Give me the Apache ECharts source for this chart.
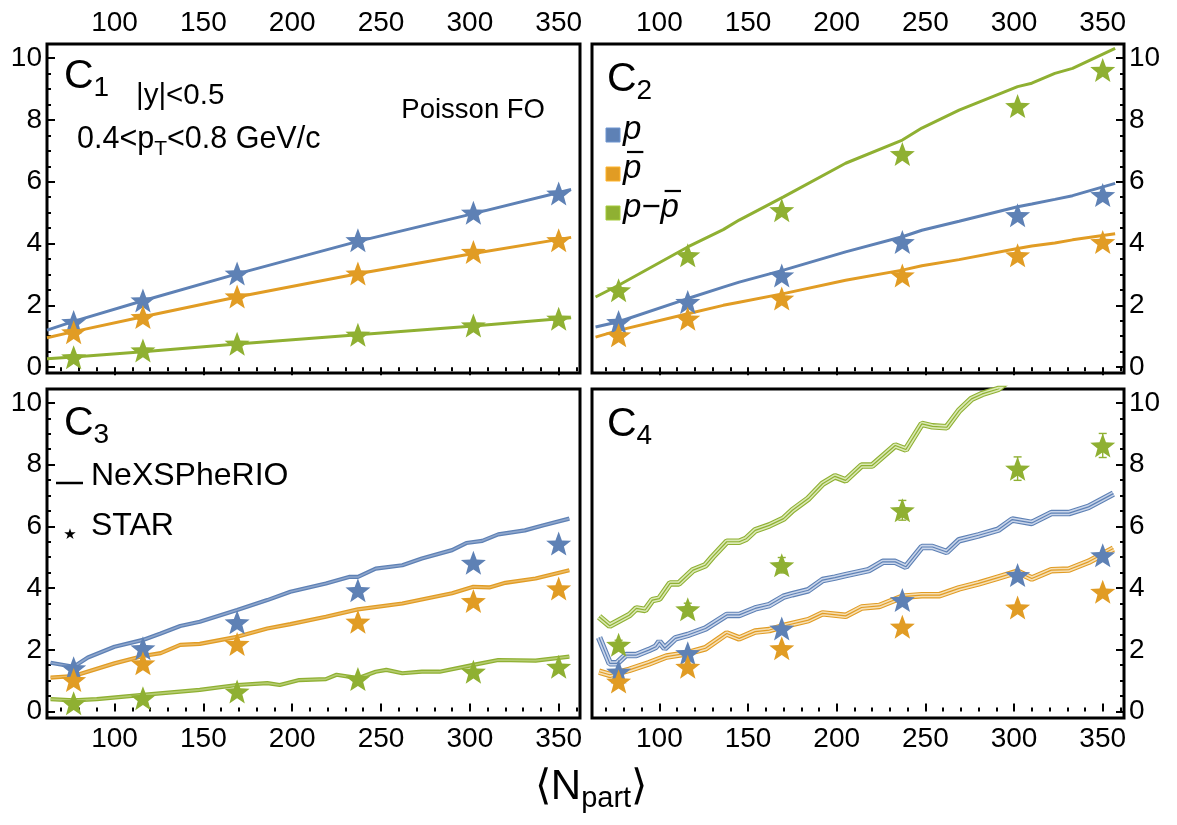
<!DOCTYPE html>
<html>
<head>
<meta charset="utf-8">
<script src="https://cdn.jsdelivr.net/npm/echarts@6/dist/echarts.min.js"></script>
<style>
  html, body { margin: 0; padding: 0; background: #fff; }
  #chart { width: 1177px; height: 825px; }
</style>
</head>
<body>
<div id="chart"></div>
<script>
'use strict';

// STAR centrality points (<Npart>)
var nPart = [77, 116, 169, 237, 302, 350];

// C1
var c1StarP    = [1.46, 2.16, 3.03, 4.11, 5.00, 5.62];
var c1StarPbar = [1.13, 1.62, 2.29, 3.03, 3.73, 4.11];
var c1StarNet  = [0.32, 0.54, 0.76, 1.05, 1.35, 1.57];
var c1ModelX    = [62, 77, 116, 169, 237, 302, 357];
var c1ModelP    = [1.20, 1.48, 2.15, 3.02, 4.07, 4.97, 5.75];
var c1ModelPbar = [0.95, 1.15, 1.63, 2.27, 3.02, 3.68, 4.20];
var c1ModelNet  = [0.27, 0.33, 0.50, 0.75, 1.05, 1.33, 1.60];

// C2
var c2StarP    = [1.46, 2.11, 2.97, 4.05, 4.92, 5.57];
var c2StarPbar = [1.03, 1.57, 2.22, 2.97, 3.62, 4.05];
var c2StarNet  = [2.49, 3.62, 5.08, 6.90, 8.45, 9.62];
var c2ModelX    = [64, 77, 116, 136, 145, 170, 205, 237, 248, 269, 302, 310, 323, 333, 357];
var c2ModelP    = [1.30, 1.47, 2.22, 2.59, 2.75, 3.14, 3.73, 4.22, 4.43, 4.72, 5.19, 5.28, 5.43, 5.55, 5.95];
var c2ModelPbar = [0.97, 1.19, 1.73, 2.00, 2.10, 2.38, 2.81, 3.14, 3.28, 3.48, 3.84, 3.92, 4.02, 4.12, 4.32];
var c2ModelNet  = [2.27, 2.65, 3.89, 4.45, 4.76, 5.51, 6.60, 7.35, 7.74, 8.32, 9.08, 9.19, 9.51, 9.67, 10.32];

// C3
var c3StarP    = [1.40, 2.05, 2.89, 3.93, 4.82, 5.44];
var c3StarPbar = [1.02, 1.56, 2.19, 2.91, 3.58, 3.99];
var c3StarNet  = [0.27, 0.43, 0.65, 1.05, 1.29, 1.45];
var c3PX    = [64, 77, 85, 100, 116, 126, 137, 148, 169, 186, 199, 219, 232, 237, 247, 262, 273, 290, 298, 307, 316, 331, 341, 356];
var c3PY    = [1.58, 1.45, 1.75, 2.10, 2.32, 2.53, 2.77, 2.91, 3.29, 3.61, 3.88, 4.15, 4.36, 4.36, 4.63, 4.74, 4.96, 5.23, 5.46, 5.53, 5.74, 5.87, 6.03, 6.25];
var c3PbarX = [64, 77, 100, 116, 126, 137, 148, 169, 186, 199, 219, 237, 262, 290, 302, 311, 320, 337, 356];
var c3PbarY = [1.10, 1.15, 1.56, 1.80, 1.89, 2.16, 2.19, 2.42, 2.69, 2.83, 3.07, 3.31, 3.50, 3.83, 4.04, 4.02, 4.17, 4.31, 4.58];
var c3NetX  = [64, 77, 90, 116, 148, 169, 186, 193, 204, 219, 225, 237, 247, 253, 262, 273, 283, 302, 316, 337, 356];
var c3NetY  = [0.40, 0.36, 0.40, 0.54, 0.70, 0.86, 0.92, 0.86, 1.02, 1.05, 1.19, 1.08, 1.29, 1.35, 1.24, 1.29, 1.29, 1.51, 1.67, 1.65, 1.78];

// C4
var c4StarP    = [1.29, 1.89, 2.69, 3.61, 4.42, 5.06];
var c4StarPbar = [0.97, 1.45, 2.05, 2.75, 3.37, 3.88];
var c4StarNet  = [2.16, 3.31, 4.74, 6.52, 7.87, 8.62];
var c4StarNetErr = [0.15, 0.20, 0.25, 0.32, 0.38, 0.39];
var c4PX    = [66, 72, 76, 81, 87, 94, 98, 100, 103, 109, 116, 126, 138, 145, 154, 162, 170, 175, 184, 192, 199, 205, 218, 226, 233, 239, 248, 254, 262, 269, 280, 291, 299, 310, 321, 331, 342, 356];
var c4PY    = [2.40, 1.56, 1.56, 1.83, 1.83, 1.99, 2.10, 2.26, 2.05, 2.37, 2.48, 2.69, 3.13, 3.13, 3.34, 3.45, 3.72, 3.80, 3.93, 4.26, 4.34, 4.42, 4.58, 4.85, 4.85, 4.69, 5.33, 5.33, 5.17, 5.55, 5.71, 5.89, 6.22, 6.11, 6.43, 6.43, 6.63, 7.06];
var c4PbarX = [66, 72, 83, 94, 104, 116, 126, 138, 145, 154, 162, 170, 184, 192, 205, 214, 224, 237, 248, 258, 269, 280, 291, 302, 310, 321, 331, 342, 356];
var c4PbarY = [1.29, 1.19, 1.35, 1.56, 1.78, 1.89, 2.05, 2.53, 2.37, 2.59, 2.64, 2.77, 2.96, 3.18, 3.10, 3.37, 3.42, 3.72, 3.77, 3.77, 3.99, 4.15, 4.34, 4.53, 4.31, 4.58, 4.60, 4.85, 5.28];
var c4NetX  = [66, 72, 83, 87, 92, 96, 100, 106, 111, 119, 126, 130, 138, 145, 149, 154, 162, 170, 175, 184, 192, 199, 205, 214, 220, 233, 239, 248, 254, 262, 269, 276, 282, 291, 297];
var c4NetY  = [3.07, 2.78, 3.12, 3.34, 3.29, 3.61, 3.66, 4.15, 4.15, 4.58, 4.74, 5.01, 5.50, 5.50, 5.60, 5.87, 6.03, 6.25, 6.52, 6.90, 7.38, 7.62, 7.49, 7.97, 7.97, 8.62, 8.49, 9.32, 9.24, 9.21, 9.75, 10.13, 10.29, 10.45, 10.72];

// axis ticks
var xTicks = [100, 150, 200, 250, 300, 350];
var xMinor = [70, 80, 90, 110, 120, 130, 140, 160, 170, 180, 190, 210, 220, 230, 240, 260, 270, 280, 290, 310, 320, 330, 340, 360];
var yTicks = [0, 2, 4, 6, 8, 10];
var yMinor = [0.5, 1, 1.5, 2.5, 3, 3.5, 4.5, 5, 5.5, 6.5, 7, 7.5, 8.5, 9, 9.5];

var BLUE = '#5e81b5', ORANGE = '#e19c24', GREEN = '#8fb032';
var BLUE_M = '#8ea6cc', ORANGE_M = '#ebbb66', GREEN_M = '#b5cc72';
var BLUE_L = '#c9d5ea', ORANGE_L = '#f6dfb4', GREEN_L = '#dae9b5';
var FONT = '"Liberation Sans", Arial, sans-serif';
var STAR = 'path://M50 0L62.34 33.01L97.55 34.55L69.97 56.49L79.39 90.45L50 71L20.61 90.45L30.03 56.49L2.45 34.55L37.66 33.01Z';

var chart = echarts.init(document.getElementById('chart'));

var mctx = document.createElement('canvas').getContext('2d');
function tw(s, size, style) {
    mctx.font = (style || 'normal') + ' ' + size + 'px ' + FONT;
    return mctx.measureText(s).width;
}

function pairs(xs, ys) {
    return xs.map(function (x, i) { return [x, ys[i]]; });
}

var grids = [
    {left: 47, top: 44, width: 533, height: 329},
    {left: 592, top: 44, width: 532, height: 329},
    {left: 47, top: 389, width: 533, height: 329},
    {left: 592, top: 389, width: 532, height: 329}
];
var xPos = ['top', 'top', 'bottom', 'bottom'];
var yPos = ['left', 'right', 'left', 'right'];
var yMin = [-0.19, -0.19, -0.21, -0.21];
var yMax = [10.46, 10.46, 10.45, 10.45];

var xAxes = [], yAxes = [];
grids.forEach(function (g, k) {
    [true, false].forEach(function (major) {
        xAxes.push({
            gridIndex: k, type: 'value', min: 62, max: 362, position: xPos[k],
            axisLine: {show: false}, splitLine: {show: false},
            axisTick: {show: true, inside: true, length: major ? 8 : 4,
                customValues: major ? xTicks : xMinor,
                lineStyle: {color: '#000', width: 2}},
            axisLabel: {show: major, customValues: xTicks, fontSize: 28, fontFamily: FONT,
                color: '#000', margin: 7}
        });
        yAxes.push({
            gridIndex: k, type: 'value', min: yMin[k], max: yMax[k], position: yPos[k],
            axisLine: {show: false}, splitLine: {show: false},
            axisTick: {show: true, inside: true, length: major ? 8 : 4,
                customValues: major ? yTicks : yMinor,
                lineStyle: {color: '#000', width: 2}},
            axisLabel: {show: major, customValues: yTicks, fontSize: 28, fontFamily: FONT,
                color: '#000', margin: 5}
        });
    });
});

var series = [];
function line(k, data, color, width) {
    series.push({
        type: 'line', xAxisIndex: 2 * k, yAxisIndex: 2 * k, data: data,
        showSymbol: false, silent: true, animation: false,
        lineStyle: {color: color, width: width}
    });
}
// thin band: solid edge with a lighter core
function thinBand(k, data, color, mid) {
    line(k, data, color, 4.2);
    line(k, data, mid, 1.6);
}
// wide band: edges, light fill and a centre line
function wideBand(k, data, color, light) {
    line(k, data, color, 6.5);
    line(k, data, light, 4.3);
    line(k, data, color, 1.2);
}
function stars(k, ys, color) {
    series.push({
        type: 'scatter', xAxisIndex: 2 * k, yAxisIndex: 2 * k, data: pairs(nPart, ys),
        symbol: STAR, symbolSize: [25, 24], silent: true, animation: false,
        itemStyle: {color: color, opacity: 1}, z: 5
    });
}

// C1
line(0, pairs(c1ModelX, c1ModelP), BLUE, 3);
line(0, pairs(c1ModelX, c1ModelPbar), ORANGE, 3);
line(0, pairs(c1ModelX, c1ModelNet), GREEN, 3);
stars(0, c1StarP, BLUE); stars(0, c1StarPbar, ORANGE); stars(0, c1StarNet, GREEN);
// C2
line(1, pairs(c2ModelX, c2ModelP), BLUE, 3);
line(1, pairs(c2ModelX, c2ModelPbar), ORANGE, 3);
line(1, pairs(c2ModelX, c2ModelNet), GREEN, 3);
stars(1, c2StarP, BLUE); stars(1, c2StarPbar, ORANGE); stars(1, c2StarNet, GREEN);
// C3
thinBand(2, pairs(c3PX, c3PY), BLUE, BLUE_M);
thinBand(2, pairs(c3PbarX, c3PbarY), ORANGE, ORANGE_M);
thinBand(2, pairs(c3NetX, c3NetY), GREEN, GREEN_M);
stars(2, c3StarP, BLUE); stars(2, c3StarPbar, ORANGE); stars(2, c3StarNet, GREEN);
// C4
wideBand(3, pairs(c4NetX, c4NetY), GREEN, GREEN_L);
wideBand(3, pairs(c4PX, c4PY), BLUE, BLUE_L);
wideBand(3, pairs(c4PbarX, c4PbarY), ORANGE, ORANGE_L);
series.push({
    type: 'custom', xAxisIndex: 6, yAxisIndex: 6, silent: true, animation: false, z: 6,
    data: nPart.map(function (x, i) { return [x, c4StarNet[i], c4StarNetErr[i]]; }),
    renderItem: function (params, api) {
        var x = api.value(0), y = api.value(1), e = api.value(2);
        var hi = api.coord([x, y + e]), lo = api.coord([x, y - e]);
        var st = {stroke: GREEN, lineWidth: 1.4};
        return {type: 'group', children: [
            {type: 'line', shape: {x1: hi[0], y1: hi[1], x2: lo[0], y2: lo[1]}, style: st},
            {type: 'line', shape: {x1: hi[0] - 4, y1: hi[1], x2: hi[0] + 4, y2: hi[1]}, style: st},
            {type: 'line', shape: {x1: lo[0] - 4, y1: lo[1], x2: lo[0] + 4, y2: lo[1]}, style: st}
        ]};
    }
});
stars(3, c4StarP, BLUE); stars(3, c4StarPbar, ORANGE); stars(3, c4StarNet, GREEN);

// annotation texts
var graphic = [];
function txt(s, x, y, size, extra) {
    var st = {text: s, fontSize: size, fontFamily: FONT, fill: '#000',
        align: 'left', verticalAlign: 'middle', textAlign: 'left', textVerticalAlign: 'middle'};
    if (extra) Object.keys(extra).forEach(function (key) { st[key] = extra[key]; });
    graphic.push({type: 'text', x: x, y: y, silent: true, style: st, z: 10});
}
function panelLabel(sub, x, y) {
    txt('C', x, y, 41);
    txt(sub, x + tw('C', 41), y + 11, 28);
}
panelLabel('1', 64, 77);
panelLabel('2', 607, 80);
panelLabel('3', 64, 424);
panelLabel('4', 607, 425);

txt('|y|<0.5', 136, 96, 29.5);
txt('Poisson FO', 545, 110, 27.5, {align: 'right', textAlign: 'right'});
var px0 = 77;
txt('0.4<p', px0, 140, 30.5);
var px1 = px0 + tw('0.4<p', 30.5);
txt('T', px1, 149, 21);
txt('<0.8 GeV/c', px1 + tw('T', 21), 140, 30.5);

// C2 legend
[[BLUE, 'p', 0], [ORANGE, 'p', 1], [GREEN, 'p\u2212p', 2]].forEach(function (r) {
    var cy = 135 + r[2] * 39;
    graphic.push({type: 'rect', silent: true, shape: {x: 606, y: cy - 7, width: 14, height: 14},
        style: {fill: r[0], stroke: echarts.color.lift(r[0], -0.15), lineWidth: 1}});
    txt(r[1], 623, cy - 5, 33, {fontStyle: 'italic'});
    var pw = tw('p', 33, 'italic');
    if (r[2] === 1) {
        graphic.push({type: 'line', silent: true, shape: {x1: 627, y1: cy - 22, x2: 627 + pw - 2, y2: cy - 22},
            style: {stroke: '#000', lineWidth: 2.2}});
    }
    if (r[2] === 2) {
        var off = 623 + tw('p\u2212', 33, 'italic');
        graphic.push({type: 'line', silent: true, shape: {x1: off + 4, y1: cy - 22, x2: off + pw + 2, y2: cy - 22},
            style: {stroke: '#000', lineWidth: 2.2}});
    }
});

// C3 legend
graphic.push({type: 'line', silent: true, shape: {x1: 56, y1: 483, x2: 83, y2: 483},
    style: {stroke: '#000', lineWidth: 2.5}});
txt('NeXSPheRIO', 91, 476, 32);
txt('\u2605', 70, 535, 15, {align: 'center', textAlign: 'center', fontFamily: '"DejaVu Sans"'});
txt('STAR', 91, 526, 32);

// x axis title
var wA = tw('\u27e8N', 42), wB = tw('part', 29), wC = tw('\u27e9', 42);
var ax0 = 591 - (wA + wB + wC) / 2;
txt('\u27e8N', ax0, 787, 42);
txt('part', ax0 + wA, 799, 29);
txt('\u27e9', ax0 + wA + wB, 787, 42);

var option = {
    backgroundColor: '#fff',
    animation: false,
    grid: grids.map(function (g) {
        return {left: g.left, top: g.top, width: g.width, height: g.height,
            show: true, borderColor: '#000', borderWidth: 3, backgroundColor: 'transparent'};
    }),
    xAxis: xAxes,
    yAxis: yAxes,
    series: series,
    graphic: graphic
};

chart.setOption(option);
</script>
</body>
</html>
